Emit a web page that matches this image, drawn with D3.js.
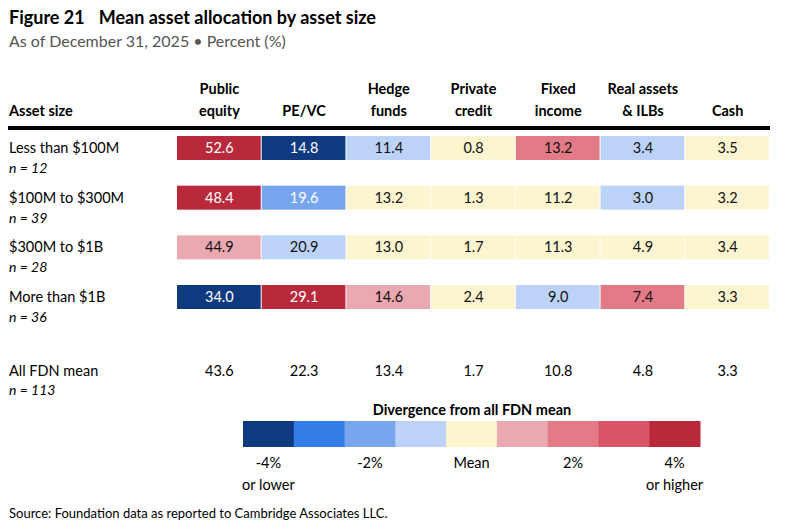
<!DOCTYPE html>
<html>
<head>
<meta charset="utf-8">
<script src="https://cdn.jsdelivr.net/npm/d3@7"></script>
<style>
body{margin:0;background:#fff;font-family:Lato,"Noto Sans",sans-serif;color:#111;}
</style>
</head>
<body>
<script>
var columns = [["Public","equity"],["PE/VC"],["Hedge","funds"],["Private","credit"],["Fixed","income"],["Real assets","& ILBs"],["Cash"]];
var rowLabels = ["Less than $100M","$100M to $300M","$300M to $1B","More than $1B"];
var rowN = [12,39,28,36];
var values = [
  [52.6,14.8,11.4,0.8,13.2,3.4,3.5],
  [48.4,19.6,13.2,1.3,11.2,3.0,3.2],
  [44.9,20.9,13.0,1.7,11.3,4.9,3.4],
  [34.0,29.1,14.6,2.4,9.0,7.4,3.3]
];
var meanValues = [43.6,22.3,13.4,1.7,10.8,4.8,3.3];
var meanN = 113;
var bins = [-4,-3,-2,-1,1,2,3,4];
var palette = ["#0f3a80","#347de8","#78a6ee","#bcd3f7","#fdf5cf","#eaa8b0","#e27b87","#d85566","#b8293b"];
var legendTicks = [["-4%","or lower"],["-2%"],["Mean"],["2%"],["4%","or higher"]];

var W = 801, H = 531;
var svg = d3.select("body").append("svg").attr("width",W).attr("height",H);
var color = d3.scaleThreshold().domain(bins).range(palette);
var x = d3.scaleBand().domain(d3.range(columns.length)).range([177,770]);
var y = d3.scaleBand().domain(d3.range(rowLabels.length)).range([136,309]).paddingInner(0.517).paddingOuter(0);

// title
var t = svg.append("text").attr("x",9).attr("y",24).attr("font-size",18).attr("font-weight","bold");
t.append("tspan").text("Figure 21");
t.append("tspan").attr("dx",14).text("Mean asset allocation by asset size");
svg.append("text").attr("x",9).attr("y",47).attr("font-size",16).attr("fill","#555").text("As of December 31, 2025 \u2022 Percent (%)");

// header
svg.append("text").attr("x",9).attr("y",116).attr("font-size",14.5).attr("font-weight","bold").text("Asset size");
columns.forEach(function(c,i){
  var tx = svg.append("text").attr("x",x(i)+x.bandwidth()/2).attr("text-anchor","middle").attr("font-size",14.5).attr("font-weight","bold");
  c.forEach(function(l,j){
    tx.append("tspan").attr("x",x(i)+x.bandwidth()/2).attr("y",116-(c.length-1-j)*22).text(l);
  });
});
svg.append("rect").attr("x",8).attr("y",126).attr("width",762).attr("height",4).attr("fill","#000");

// rows
values.forEach(function(row,r){
  svg.append("text").attr("x",9).attr("y",y(r)+17).attr("font-size",14.5).text(rowLabels[r]);
  svg.append("text").attr("x",9).attr("y",y(r)+37).attr("font-size",14).attr("font-style","italic").text("n = "+rowN[r]);
  row.forEach(function(v,i){
    var d = Math.round((v-meanValues[i])*10)/10;
    var c = color(d);
    var dark = (c===palette[0]||c===palette[1]||c===palette[2]||c===palette[8]||c===palette[7]);
    svg.append("rect").attr("x",x(i)).attr("y",y(r)).attr("width",x.bandwidth()-1).attr("height",y.bandwidth()).attr("fill",c);
    svg.append("text").attr("x",x(i)+x.bandwidth()/2).attr("y",y(r)+y.bandwidth()/2+5).attr("text-anchor","middle")
      .attr("font-size",14.5).attr("fill",dark?"#fff":"#111").text(v.toFixed(1));
  });
});

// mean row
svg.append("text").attr("x",9).attr("y",376).attr("font-size",14.5).text("All FDN mean");
svg.append("text").attr("x",9).attr("y",395).attr("font-size",14).attr("font-style","italic").text("n = "+meanN);
meanValues.forEach(function(v,i){
  svg.append("text").attr("x",x(i)+x.bandwidth()/2).attr("y",376).attr("text-anchor","middle").attr("font-size",14.5).text(v.toFixed(1));
});

// legend
var lx = d3.scaleBand().domain(d3.range(palette.length)).range([243,700]);
svg.append("text").attr("x",472).attr("y",415).attr("text-anchor","middle").attr("font-size",14.5).attr("font-weight","bold").text("Divergence from all FDN mean");
palette.forEach(function(c,i){
  svg.append("rect").attr("x",lx(i)).attr("y",421).attr("width",lx.bandwidth()+0.5).attr("height",26).attr("fill",c);
});
legendTicks.forEach(function(tk,k){
  var cx = lx(k*2)+lx.bandwidth()/2;
  tk.forEach(function(l,j){
    svg.append("text").attr("x",cx).attr("y",468+j*22).attr("text-anchor","middle").attr("font-size",14.5).text(l);
  });
});

svg.append("text").attr("x",9).attr("y",518).attr("font-size",13).text("Source: Foundation data as reported to Cambridge Associates LLC.");
</script>
</body>
</html>
